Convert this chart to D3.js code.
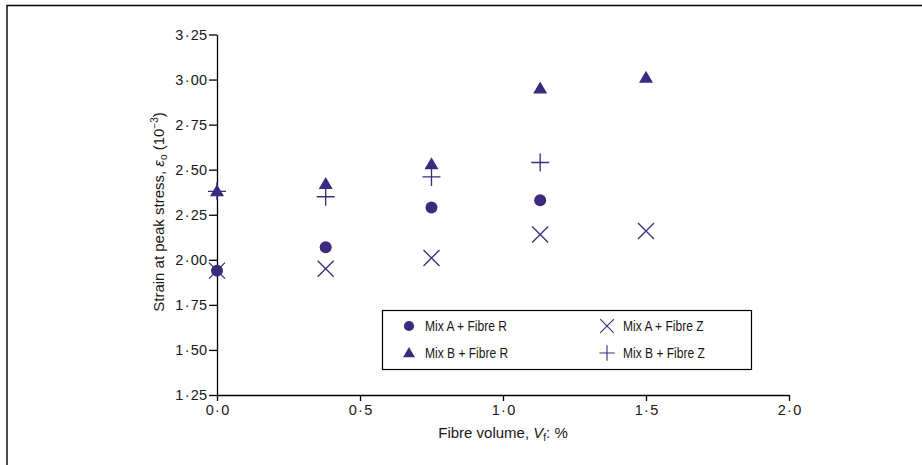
<!DOCTYPE html>
<html>
<head>
<meta charset="utf-8">
<script src="https://cdn.jsdelivr.net/npm/d3@7/dist/d3.min.js"></script>
<style>
  html, body { margin: 0; padding: 0; background: #fff; }
  svg text { font-family: "Liberation Sans", Arial, sans-serif; fill: #1a1718; }
</style>
</head>
<body>
<svg id="chart" width="922" height="465"></svg>
<script>
// Fibre volume (%) for each batch
const fibreVolume = [0.0, 0.38, 0.75, 1.13, 1.5];

// Strain at peak stress (10^-3) per mix / fibre combination
const mixAFibreR = [1.94, 2.07, 2.29, 2.33];
const mixBFibreR = [2.38, 2.42, 2.53, 2.95, 3.01];
const mixAFibreZ = [1.94, 1.95, 2.01, 2.14, 2.16];
const mixBFibreZ = [2.38, 2.35, 2.46, 2.54];

const seriesNames = ["Mix A + Fibre R", "Mix B + Fibre R", "Mix A + Fibre Z", "Mix B + Fibre Z"];

const xTicks = [0, 0.5, 1.0, 1.5, 2.0];
const yTicks = [1.25, 1.5, 1.75, 2.0, 2.25, 2.5, 2.75, 3.0, 3.25];

const purple = "#3b2a7e";
const svg = d3.select("#chart");

// outer frame (top and left edges)
svg.append("path")
  .attr("d", "M7,465 V5.5 H922")
  .attr("fill", "none").attr("stroke", "#000").attr("stroke-width", 1.4);

const x = d3.scaleLinear().domain([0, 2]).range([217, 789]);
const y = d3.scaleLinear().domain([1.25, 3.25]).range([395, 34.5]);

// tick labels use a spaced middle dot as the decimal point
function dotLabel(sel, digits) {
  sel.each(function (d) {
    const [a, b] = d3.format("." + digits + "f")(d).split(".");
    const t = d3.select(this).text(null);
    t.append("tspan").text(a);
    t.append("tspan").attr("dx", 1.3).text("·");
    t.append("tspan").attr("dx", 1.3).text(b);
  });
}

const xAxis = svg.append("g")
  .attr("transform", `translate(0,${y(1.25)})`)
  .call(d3.axisBottom(x).tickValues(xTicks).tickSize(6).tickSizeOuter(0));
const yAxis = svg.append("g")
  .attr("transform", `translate(${x(0)},0)`)
  .call(d3.axisLeft(y).tickValues(yTicks).tickSize(8).tickSizeOuter(0));

[xAxis, yAxis].forEach(g => {
  g.selectAll("path, line").attr("stroke", "#000").attr("stroke-width", 1.3);
  g.selectAll("text").attr("font-size", 14.5).attr("fill", "#1a1718")
    .style("font-family", "'Liberation Sans', Arial, sans-serif");
});
xAxis.selectAll(".tick text").call(dotLabel, 1).attr("dy", "0.9em").attr("y", 7);
yAxis.selectAll(".tick text").call(dotLabel, 2).attr("x", -10);

// axis titles
const xt = svg.append("text").attr("x", 503).attr("y", 438)
  .attr("text-anchor", "middle").attr("font-size", 15);
xt.append("tspan").text("Fibre volume, ");
xt.append("tspan").attr("font-style", "italic").text("V");
xt.append("tspan").attr("font-size", 10).attr("dy", 3).text("f");
xt.append("tspan").attr("dy", -3).text(": %");

const yt = svg.append("text")
  .attr("transform", `translate(164,212) rotate(-90)`)
  .attr("text-anchor", "middle").attr("font-size", 15);
yt.append("tspan").text("Strain at peak stress, ");
yt.append("tspan").attr("font-style", "italic").text("ε");
yt.append("tspan").attr("font-size", 10).attr("dy", 3).text("o");
yt.append("tspan").attr("dy", -3).text(" (10");
yt.append("tspan").attr("font-size", 10).attr("dy", -6).text("−3");
yt.append("tspan").attr("dy", 6).text(")");

// marker shapes
const triPath = "M0,-7 L7,5 L-7,5 Z";
const crossPath = "M-8,-8 L8,8 M-8,8 L8,-8";
const plusPath = "M-9,0 L9,0 M0,-9 L0,9";

function drawMarker(g, kind) {
  if (kind === 0) g.append("circle").attr("r", 6).attr("fill", purple);
  else if (kind === 1) g.append("path").attr("d", triPath).attr("fill", purple);
  else if (kind === 2) g.append("path").attr("d", crossPath).attr("stroke", purple).attr("stroke-width", 1.3).attr("fill", "none");
  else g.append("path").attr("d", plusPath).attr("stroke", purple).attr("stroke-width", 1.3).attr("fill", "none");
}

const allSeries = [mixAFibreR, mixBFibreR, mixAFibreZ, mixBFibreZ];
const drawOrder = [3, 2, 0, 1];
const plot = svg.append("g");
drawOrder.forEach(k => {
  allSeries[k].forEach((v, i) => {
    const g = plot.append("g").attr("transform", `translate(${x(fibreVolume[i])},${y(v)})`);
    drawMarker(g, k);
  });
});

// legend
const legend = svg.append("g");
legend.append("rect").attr("x", 382.5).attr("y", 310.5).attr("width", 369).attr("height", 59)
  .attr("fill", "#fff").attr("stroke", "#000").attr("stroke-width", 1.2);
const legendPos = [[409, 326], [409, 353], [607, 326], [607, 353]];
seriesNames.forEach((name, k) => {
  const [lx, ly] = legendPos[k];
  const g = legend.append("g").attr("transform", `translate(${lx},${ly}) scale(0.85)`);
  drawMarker(g, k);
  legend.append("text")
    .attr("transform", `translate(${lx + 16},${ly + 5}) scale(0.83,1)`)
    .attr("font-size", 14.5).text(name);
});
</script>
</body>
</html>
